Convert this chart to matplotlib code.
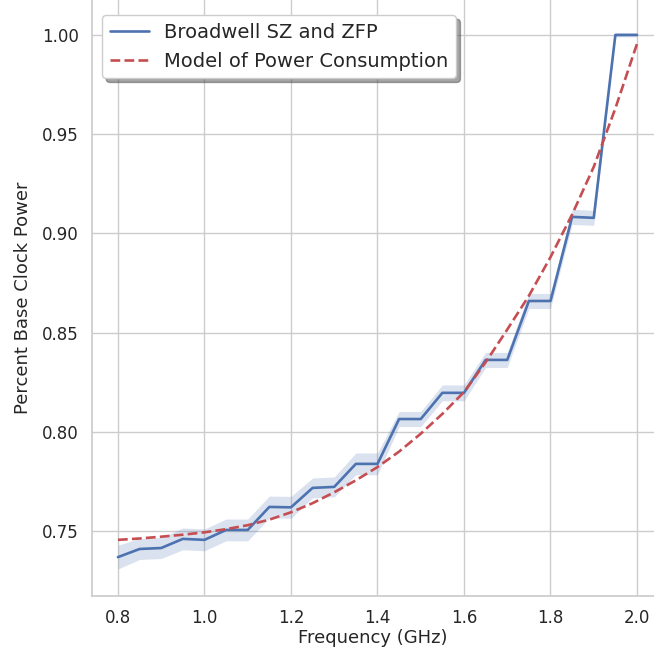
import matplotlib
matplotlib.use("Agg")
import matplotlib.pyplot as plt
import seaborn as sns

# frequency steps (GHz)
freq = [0.80, 0.85, 0.90, 0.95, 1.00, 1.05, 1.10, 1.15, 1.20, 1.25, 1.30, 1.35, 1.40,
        1.45, 1.50, 1.55, 1.60, 1.65, 1.70, 1.75, 1.80, 1.85, 1.90, 1.95, 2.00]

# measured power (mean) and half width of the shaded band
measured = [0.7368, 0.7409, 0.7414, 0.7460, 0.7455, 0.7505, 0.7505, 0.7621, 0.7619,
            0.7717, 0.7722, 0.7838, 0.7838, 0.8064, 0.8064, 0.8196, 0.8196, 0.8362,
            0.8362, 0.8659, 0.8659, 0.9083, 0.9078, 1.0000, 1.0000]
spread = [0.0060, 0.0053, 0.0053, 0.0055, 0.0055, 0.0055, 0.0055, 0.0055, 0.0055,
          0.0050, 0.0050, 0.0055, 0.0055, 0.0038, 0.0038, 0.0040, 0.0040, 0.0038,
          0.0038, 0.0038, 0.0038, 0.0038, 0.0038, 0.0010, 0.0010]

# model of power consumption
model = [0.7455, 0.7462, 0.7471, 0.7481, 0.7493, 0.7509, 0.7529, 0.7557, 0.7594,
         0.7640, 0.7695, 0.7755, 0.7822, 0.7900, 0.7990, 0.8090, 0.8200, 0.8350,
         0.8515, 0.8685, 0.8880, 0.9095, 0.9335, 0.9630, 0.9955]

sns.set_theme(style="whitegrid")
plt.rcParams["font.family"] = ["DejaVu Sans"]
blue, red = sns.color_palette("deep")[0], sns.color_palette("deep")[3]

fig = plt.figure(figsize=(6.54, 6.58), dpi=100)
ax = fig.add_axes([0.1407, 0.0942, 0.8593, 0.9058])

lower = [m - s for m, s in zip(measured, spread)]
upper = [m + s for m, s in zip(measured, spread)]
ax.fill_between(freq, lower, upper, color=blue, alpha=0.2, linewidth=0)
ax.plot(freq, measured, color=blue, linewidth=1.9, label="Broadwell SZ and ZFP")
ax.plot(freq, model, color=red, linewidth=1.9, linestyle="--",
        label="Model of Power Consumption")

ax.set_xlim(0.74, 2.0393)
ax.set_ylim(0.7172, 1.0176)
ax.set_xticks([0.8, 1.0, 1.2, 1.4, 1.6, 1.8, 2.0])
ax.set_yticks([0.75, 0.80, 0.85, 0.90, 0.95, 1.00])
ax.tick_params(labelsize=12)
ax.set_xlabel("Frequency (GHz)", fontsize=13, labelpad=1)
ax.set_ylabel("Percent Base Clock Power", fontsize=13, labelpad=7.5)
sns.despine(ax=ax)

ax.legend(loc="upper left", bbox_to_anchor=(0.0178, 0.9748), borderaxespad=0,
          fontsize=14, shadow={"ox": 3, "oy": -3}, frameon=True)

fig.savefig("out.png", dpi=100)
